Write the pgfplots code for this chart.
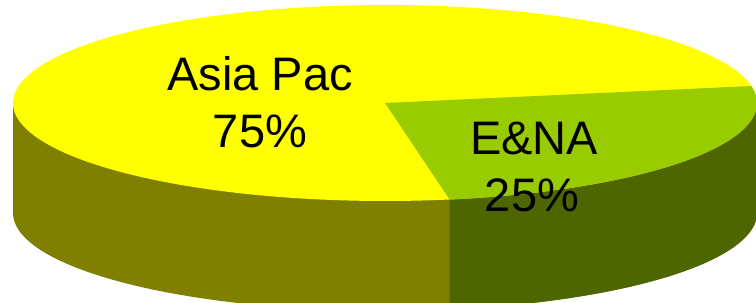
\documentclass[border=0pt]{standalone}
\usepackage{pgfplots}
\pgfplotsset{compat=1.18}
\usepackage{fontspec}
\setmainfont{Liberation Sans}
\definecolor{topY}{HTML}{FFFF00}
\definecolor{topG}{HTML}{99CC00}
\definecolor{sideY}{HTML}{808000}
\definecolor{sideG}{HTML}{4D6600}
% shares (percent)
\def\shareAsia{75}
\def\shareENA{25}
\begin{document}
\begin{tikzpicture}
\pgfmathsetmacro{\eStart}{-80}
\pgfmathsetmacro{\eEnd}{\eStart+\shareENA*3.6}
\pgfmathsetmacro{\cx}{385}
\pgfmathsetmacro{\cy}{200}
\pgfmathsetmacro{\rx}{372}
\pgfmathsetmacro{\ry}{98}
\pgfmathsetmacro{\dep}{110}
\pgfmathsetmacro{\by}{\cy-\dep}
\pgfmathsetmacro{\xs}{\cx+\rx*cos(\eStart)}
\begin{axis}[
  width=756bp, height=303bp, scale only axis,
  xmin=0, xmax=756, ymin=0, ymax=303,
  hide axis, clip=true,
]
\path (rel axis cs:0,0) rectangle (rel axis cs:1,1);
% side (olive)
\addplot[fill=sideY, draw=none, domain=0:360, samples=200] ({\cx+\rx*cos(x)},{\by+\ry*sin(x)}) -- cycle;
\addplot[fill=sideY, draw=none] coordinates {(\cx-\rx,\by) (\cx+\rx,\by) (\cx+\rx,\cy) (\cx-\rx,\cy)} -- cycle;
% side (dark green)
\addplot[fill=sideG, draw=none, domain=\eStart:-\eStart, samples=150] ({\cx+\rx*cos(x)},{\by+\ry*sin(x)}) -- cycle;
\addplot[fill=sideG, draw=none] coordinates {(\xs,\by) (\cx+\rx+2,\by) (\cx+\rx+2,\cy) (\xs,\cy)} -- cycle;
% top face
\addplot[fill=topY, draw=none, domain=0:360, samples=240] ({\cx+\rx*cos(x)},{\cy+\ry*sin(x)}) -- cycle;
\addplot[fill=topG, draw=none, domain=\eStart:\eEnd, samples=120] ({\cx+\rx*cos(x)},{\cy+\ry*sin(x)}) -- (axis cs:\cx,\cy) -- cycle;
% labels
\begin{scope}[every node/.style={font=\fontsize{47bp}{56bp}\selectfont, anchor=base, inner sep=0pt}]
\node at (axis cs:260,212) {Asia Pac};
\node at (axis cs:260,155) {75\%};
\node at (axis cs:534,148) {E\&NA};
\node at (axis cs:532,91) {25\%};
\end{scope}
\end{axis}
\end{tikzpicture}
\end{document}
